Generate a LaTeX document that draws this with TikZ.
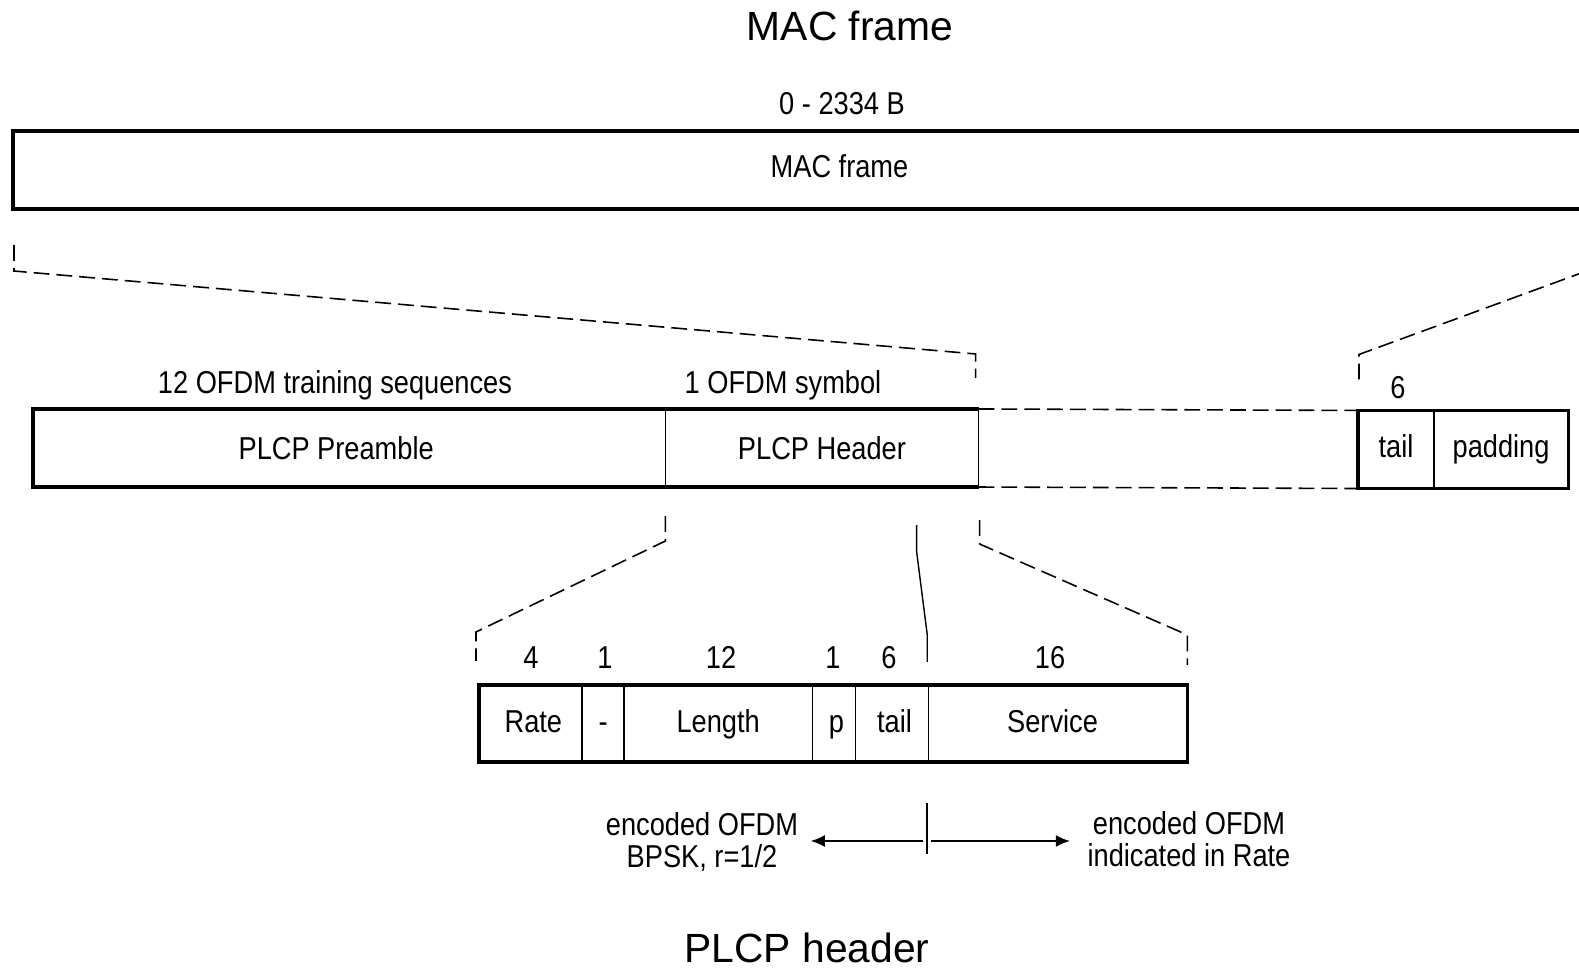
\documentclass[tikz,border=0pt]{standalone}
\usepackage{fontspec}
\setmainfont{Liberation Sans}
\newfontfamily\narrowfont{Liberation Sans}[FakeStretch=0.86]
\usetikzlibrary{arrows.meta,positioning,calc}

\begin{document}
\begin{tikzpicture}
	[x=0.01cm,y=-0.01cm,
	field/.style={draw,line width=.35pt,minimum height=.78cm,inner sep=0pt,outer sep=0pt,text height=6.4pt,text depth=0pt,font=\narrowfont\fontsize{9pt}{9.1pt}\selectfont},
	thick frame/.style={line width=.9pt},
	zoom line/.style={line width=.45pt,dash pattern=on 4.5pt off 2pt},
	note/.style={inner sep=0pt,anchor=base,font=\narrowfont\fontsize{9pt}{9.1pt}\selectfont},
	coding/.style={inner sep=0pt,align=center,font=\narrowfont\fontsize{9pt}{9.1pt}\selectfont},
	title/.style={inner sep=0pt,anchor=base,font=\fontsize{11.6pt}{13pt}\selectfont},
	arrow/.style={line width=.5pt,-{Latex[length=4pt,width=3.4pt]}}]
	
	\useasboundingbox (0,0) rectangle (1579,968);
	\clip (0,0) rectangle (1579,968);
	
	\node[title] (t1) at (850,41) {MAC frame};
	\node[note] (size) at (842,115) {0 - 2334 B};
	\node[field,line width=.9pt,text depth=2.4pt,minimum width=16.52cm,anchor=west] (mac) at (13,170) {MAC frame};
	
	\node[field,minimum width=6.32cm,anchor=west] (pre) at (33,448) {PLCP Preamble\hspace*{7.4pt}};
	\node[field,minimum width=3.13cm,right=0pt of pre] (hdr) {PLCP Header};
	\draw[thick frame] (hdr.north east) -- (pre.north west) -- (pre.south west) -- (hdr.south east);
	\node[note] (n12) at (335,394) {12 OFDM training sequences};
	\node[note] (n1) at (783,394) {1 OFDM symbol};
	
	\node[field,text depth=1.8pt,minimum width=.76cm,anchor=west] (tail) at (1358,449.5) {tail};
	\node[field,text depth=1.8pt,minimum width=1.34cm,right=0pt of tail] (pad) {padding};
	\draw[thick frame] (tail.north west) rectangle (pad.south east);
	\node[note] (n6) at (1398,399) {6};
	
	\node[field,text depth=1.2pt,minimum width=1.03cm,minimum height=.77cm,anchor=west] (rate) at (479,723.5) {\hspace*{1.6pt}Rate};
	\node[field,text depth=1.2pt,minimum width=.42cm,minimum height=.77cm,right=0pt of rate] (res) {-};
	\node[field,text depth=1.2pt,minimum width=1.88cm,minimum height=.77cm,right=0pt of res] (len) {Length};
	\node[field,text depth=1.2pt,minimum width=.43cm,minimum height=.77cm,right=0pt of len] (par) {\hspace*{1.6pt}p};
	\node[field,text depth=1.2pt,minimum width=.73cm,minimum height=.77cm,right=0pt of par] (htail) {\hspace*{1.6pt}tail};
	\node[field,text depth=1.2pt,minimum width=2.59cm,minimum height=.77cm,right=0pt of htail] (serv) {Service\hspace*{3pt}};
	\draw[thick frame] (rate.north west) rectangle (serv.south east);
	\foreach \x/\n in {531/4,605/1,721/12,833/1,889/6,1050/16}
		\node[note] (n-\x) at (\x,669) {\n};
	
	\draw[zoom line] (mac.south west) ++(1,36) -- ++(0,26) -- ($(hdr.north east)+(-3,-55)$) -- ++(0,24);
	\draw[zoom line] ($(tail.north west)+(1,-31)$) -- ++(0,-25) -- ++(240,-88);
	\draw[zoom line] (hdr.north east) -- (tail.north west);
	\draw[zoom line] (hdr.south east) -- (tail.south west);
	
	\draw[zoom line] ($(pre.south east)+(0,29)$) -- ++(0,25) -- ($(rate.north west)+(-3,-53)$) -- ++(0,29);
	\draw[zoom line] ($(hdr.south east)+(1,33)$) -- ++(0,24) -- ($(serv.north east)+(0,-50)$) -- ++(0,30);
	\draw[line width=.4pt] ($(hdr.south east)+(-62,38)$) -- ++(0,26) -- ($(htail.north east)+(-1,-50)$) -- ++(0,27);
	
	\coordinate (split) at (927,841);
	\draw[line width=.35pt] ($(split)+(0,-38)$) -- ($(split)+(0,13)$);
	\node[coding] (bpsk) at (702,842) {encoded OFDM\\BPSK, r=1/2};
	\node[coding] (rt) at (1189,839) {encoded OFDM\\indicated in Rate};
	\draw[arrow] ($(split)+(-4,0)$) -- ($(split -| bpsk.east)+(12,0)$);
	\draw[arrow] ($(split)+(4,0)$) -- ($(split -| rt.west)+(-17,0)$);
	
	\node[title] (t2) at (807,963) {PLCP header};
\end{tikzpicture}
\end{document}
